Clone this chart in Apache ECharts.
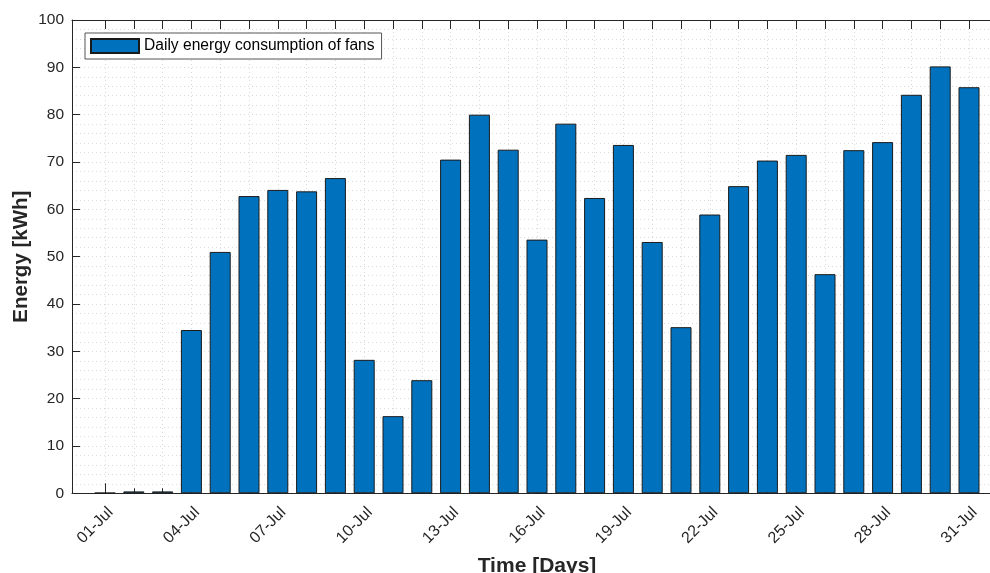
<!DOCTYPE html>
<html>
<head>
<meta charset="utf-8">
<script src="https://cdn.jsdelivr.net/npm/echarts@6/dist/echarts.min.js"></script>
<style>html,body{margin:0;padding:0;background:#fff}#c{width:990px;height:573px}</style>
</head>
<body>
<div id="c"></div>
<script>
const dayLabels = ['01-Jul','02-Jul','03-Jul','04-Jul','05-Jul','06-Jul','07-Jul','08-Jul','09-Jul','10-Jul',
  '11-Jul','12-Jul','13-Jul','14-Jul','15-Jul','16-Jul','17-Jul','18-Jul','19-Jul','20-Jul',
  '21-Jul','22-Jul','23-Jul','24-Jul','25-Jul','26-Jul','27-Jul','28-Jul','29-Jul','30-Jul','31-Jul'];
const energy = [0.1, 0.4, 0.4, 34.5, 51.0, 62.8, 64.1, 63.8, 66.6, 28.2,
  16.3, 23.9, 70.5, 80.0, 72.6, 53.6, 78.1, 62.4, 73.6, 53.1,
  35.1, 58.9, 64.9, 70.3, 71.5, 46.3, 72.5, 74.2, 84.2, 90.2, 85.8];
const seriesName = 'Daily energy consumption of fans';
const yTicks = [0, 100, 10];

const FONT = 'Liberation Sans, Arial, Helvetica, sans-serif';
const TXT = '#262626';
const GRIDC = '#d9d9d9';
const dots = [1, 3];

const chart = echarts.init(document.getElementById('c'), null, {renderer: 'canvas'});
chart.setOption({
  animation: false,
  backgroundColor: '#fff',
  textStyle: {fontFamily: FONT},
  grid: [
    {left: 72, top: 20, width: 930, height: 473.3, show: false, containLabel: false, outerBoundsMode: 'none'},
    {left: 105, top: 20, width: 864, height: 473.3, containLabel: false, outerBoundsMode: 'none'}
  ],
  legend: {
    left: 85, top: 33, orient: 'horizontal',
    padding: [5, 7, 5, 5],
    itemWidth: 48, itemHeight: 14,
    icon: 'rect',
    backgroundColor: '#fff',
    borderColor: '#555', borderWidth: 1,
    textStyle: {fontFamily: FONT, fontSize: 15.6, color: '#000'},
    data: [seriesName]
  },
  xAxis: [
    {gridIndex: 0, type: 'value', min: 0, max: 1, position: 'bottom',
      axisLine: {show: true, onZero: false, lineStyle: {color: TXT, width: 1}},
      axisTick: {show: false}, axisLabel: {show: false}, splitLine: {show: false},
      name: 'Time [Days]', nameLocation: 'middle', nameGap: 62, nameMoveOverlap: false,
      nameTextStyle: {fontFamily: FONT, fontSize: 21, fontWeight: 'bold', color: TXT}},
    {gridIndex: 1, type: 'category', data: dayLabels, boundaryGap: false, position: 'bottom',
      axisLine: {show: false},
      axisTick: {show: true, inside: true, length: 5, interval: 0, lineStyle: {color: TXT}},
      axisLabel: {show: true, interval: 2, rotate: 45, margin: 11, verticalAlign: 'top', fontSize: 16, color: TXT, fontFamily: FONT},
      splitLine: {show: true, interval: 0, lineStyle: {color: GRIDC, type: dots, width: 1}}},
    {gridIndex: 1, type: 'category', data: dayLabels, boundaryGap: false, position: 'bottom',
      axisLine: {show: false},
      axisTick: {show: true, inside: true, length: 10, interval: 2, lineStyle: {color: TXT}},
      axisLabel: {show: false}, splitLine: {show: false}},
    {gridIndex: 1, type: 'category', data: dayLabels, boundaryGap: false, position: 'top',
      axisLine: {show: false},
      axisTick: {show: true, inside: true, length: 9, interval: 0, lineStyle: {color: TXT}},
      axisLabel: {show: false}, splitLine: {show: false}},
    {gridIndex: 0, type: 'value', min: 0, max: 1, position: 'top',
      axisLine: {show: true, onZero: false, lineStyle: {color: TXT, width: 1}},
      axisTick: {show: false}, axisLabel: {show: false}, splitLine: {show: false}}
  ],
  yAxis: [
    {gridIndex: 0, type: 'value', min: yTicks[0], max: yTicks[1], interval: yTicks[2],
      axisLine: {show: true, lineStyle: {color: TXT, width: 1}},
      axisTick: {show: true, inside: true, length: 8, lineStyle: {color: TXT}},
      axisLabel: {fontSize: 15.5, color: TXT, margin: 8, fontFamily: FONT},
      splitLine: {show: true, lineStyle: {color: GRIDC, type: dots, width: 1}},
      minorTick: {show: false, splitNumber: 5},
      minorSplitLine: {show: true, lineStyle: {color: GRIDC, type: dots, width: 1}},
      name: 'Energy [kWh]', nameLocation: 'middle', nameGap: 40, nameRotate: 90, nameMoveOverlap: false,
      nameTextStyle: {fontFamily: FONT, fontSize: 20.5, fontWeight: 'bold', color: TXT}},
    {gridIndex: 1, type: 'value', min: yTicks[0], max: yTicks[1], show: false}
  ],
  series: [{
    name: seriesName,
    type: 'bar',
    xAxisIndex: 1, yAxisIndex: 1,
    data: energy,
    barWidth: 21,
    clip: false,
    itemStyle: {color: '#0072BD', borderColor: '#1a1a1a', borderWidth: 1}
  }]
});
</script>
</body>
</html>
